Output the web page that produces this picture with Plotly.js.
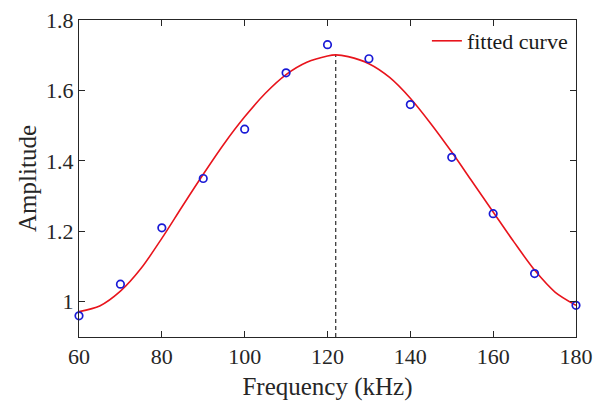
<!DOCTYPE html>
<html>
<head>
<meta charset="utf-8">
<script src="https://cdn.plot.ly/plotly-3.0.1.min.js"></script>
<style>html,body{margin:0;padding:0;background:#fff;}#chart{width:608px;height:406px;}</style>
</head>
<body>
<div id="chart"></div>
<script>
// Measured data points
var freq = [60, 70, 80, 90, 100, 110, 120, 130, 140, 150, 160, 170, 180];
var amp  = [0.96, 1.05, 1.21, 1.35, 1.49, 1.65, 1.73, 1.69, 1.56, 1.41, 1.25, 1.08, 0.99];

// Fitted curve
var fitFreq = [60, 65, 70, 75, 80, 85, 90, 95, 100, 105, 110, 115, 120, 122, 125, 130, 135, 140, 145, 150, 155, 160, 165, 170, 175, 180];
var fitAmp  = [0.972, 0.988, 1.03, 1.095, 1.18, 1.272, 1.362, 1.448, 1.525, 1.592, 1.645, 1.68, 1.698, 1.701, 1.696, 1.676, 1.637, 1.578, 1.505, 1.425, 1.34, 1.255, 1.17, 1.09, 1.027, 0.99];

// Peak marker line
var peakFreq = [122, 122];
var peakAmp  = [0.9, 1.701];

var xTicks = [60, 80, 100, 120, 140, 160, 180];
var yTicks = [1, 1.2, 1.4, 1.6, 1.8];
var yTickText = ['1', '1.2', '1.4', '1.6', '1.8'];

var serif = 'Liberation Serif, Times New Roman, serif';
var axisCol = '#262626';

var traces = [
  {
    x: peakFreq, y: peakAmp, mode: 'lines', type: 'scatter',
    line: {color: '#000000', width: 1, dash: '4px,3px'},
    showlegend: false, hoverinfo: 'skip'
  },
  {
    x: fitFreq, y: fitAmp, mode: 'lines', type: 'scatter',
    name: 'fitted curve',
    line: {color: '#e8141c', width: 1.6, shape: 'spline', smoothing: 0.8},
    showlegend: true
  },
  {
    x: freq, y: amp, mode: 'markers', type: 'scatter',
    marker: {symbol: 'circle-open', size: 7.5, color: '#1a1ad6', line: {width: 1.7, color: '#1a1ad6'}},
    showlegend: false, cliponaxis: false
  }
];

var layout = {
  width: 608, height: 406,
  margin: {l: 79, r: 32, t: 20, b: 69},
  paper_bgcolor: '#ffffff', plot_bgcolor: '#ffffff',
  font: {family: serif, color: axisCol},
  xaxis: {
    range: [60, 180], tickvals: xTicks,
    ticks: 'inside', ticklen: 6, tickcolor: axisCol, tickwidth: 1,
    showline: true, linecolor: axisCol, linewidth: 1, mirror: 'ticks',
    showgrid: false, zeroline: false,
    tickfont: {family: serif, size: 22, color: axisCol},
    title: {text: 'Frequency (kHz)', font: {family: serif, size: 25, color: axisCol}, standoff: 9}
  },
  yaxis: {
    range: [0.9, 1.8], tickvals: yTicks, ticktext: yTickText,
    ticks: 'inside', ticklen: 6, tickcolor: axisCol, tickwidth: 1,
    showline: true, linecolor: axisCol, linewidth: 1, mirror: 'ticks',
    showgrid: false, zeroline: false,
    tickfont: {family: serif, size: 22, color: axisCol},
    title: {text: 'Amplitude', font: {family: serif, size: 25, color: axisCol}, standoff: 2}
  },
  legend: {
    x: 0.70, y: 1.0, xanchor: 'left', yanchor: 'top',
    bgcolor: 'rgba(0,0,0,0)', borderwidth: 0,
    font: {family: serif, size: 22, color: '#1a1a1a'}
  },
  showlegend: true
};

Plotly.newPlot('chart', traces, layout, {displayModeBar: false, staticPlot: true});
</script>
</body>
</html>
